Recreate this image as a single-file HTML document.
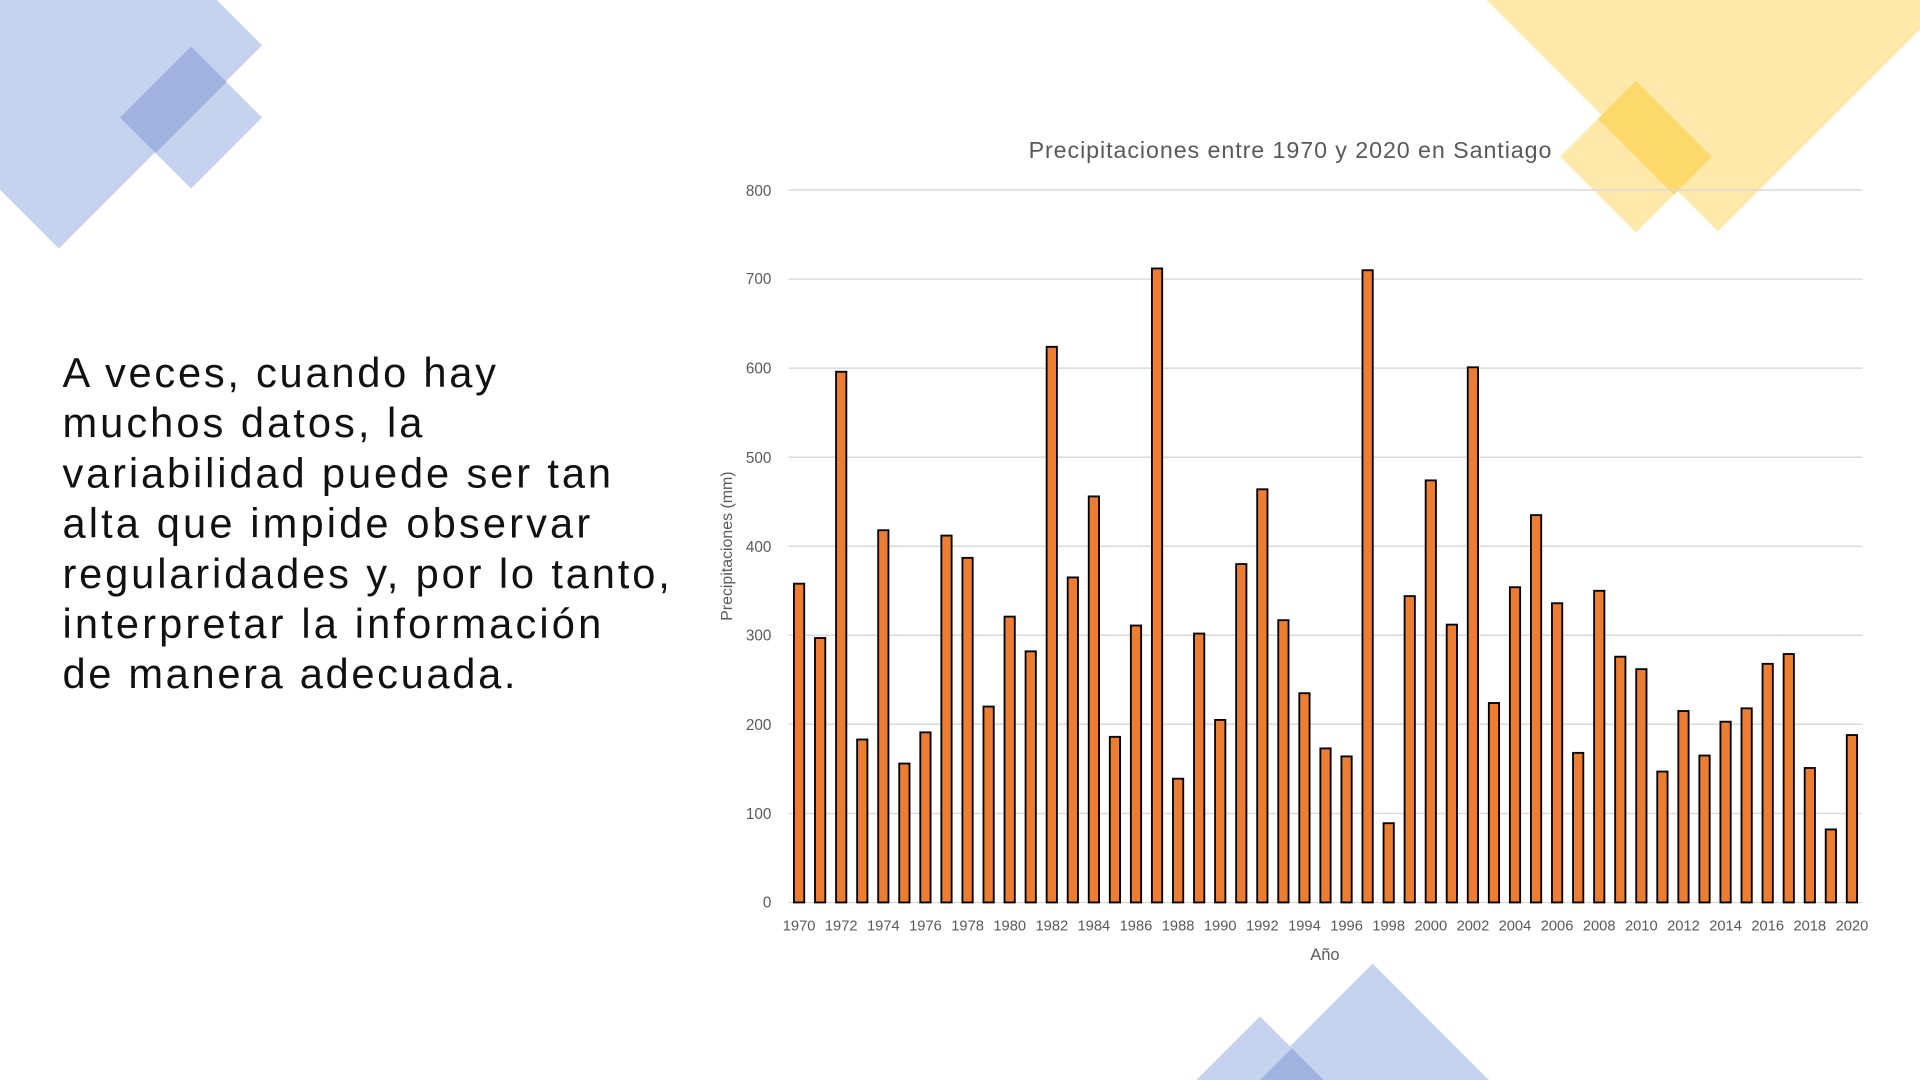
<!DOCTYPE html>
<html><head><meta charset="utf-8"><style>
html,body{margin:0;padding:0;background:#fff;width:1920px;height:1080px;overflow:hidden}
svg{display:block;overflow:hidden}
text{font-family:"Liberation Sans",sans-serif}
</style></head><body>
<svg width="1920" height="1080" viewBox="0 0 1568 882" preserveAspectRatio="none">
<defs><clipPath id="c"><rect x="0" y="0" width="1568" height="882"/></clipPath></defs>
<g clip-path="url(#c)">
<polygon points="48,-129 214,37 48,203 -118,37" fill="#c6d3ee"/>
<polygon points="156,38 214,96 156,154 98,96" fill="#c6d3ee"/>
<polygon points="156,38 185,67 127,125 98,96" fill="#9fb2e0"/>
<polygon points="1403,-217 1606,-14 1403,189 1200,-14" fill="#fee9ab"/>
<polygon points="1336,66 1398,128 1336,190 1274,128" fill="#fee9ab"/>
<polygon points="1336,66 1398,128 1367,159 1305,97" fill="#fdd96b"/>
<polygon points="1121,787 1239,905 1121,1023 1003,905" fill="#c6d3ee"/>
<polygon points="1029,830 1104,905 1029,980 954,905" fill="#c6d3ee"/>
<polygon points="1055,856 1104,905 1055,954 1006,905" fill="#9fb2e0"/>
</g>
<g font-size="34" fill="#111">
<text x="51" y="316" textLength="354" lengthAdjust="spacing">A veces, cuando hay</text>
<text x="51" y="357" textLength="294" lengthAdjust="spacing">muchos datos, la</text>
<text x="51" y="398" textLength="448" lengthAdjust="spacing">variabilidad puede ser tan</text>
<text x="51" y="439" textLength="431" lengthAdjust="spacing">alta que impide observar</text>
<text x="51" y="480" textLength="496" lengthAdjust="spacing">regularidades y, por lo tanto,</text>
<text x="51" y="521" textLength="440" lengthAdjust="spacing">interpretar la información</text>
<text x="51" y="562" textLength="370" lengthAdjust="spacing">de manera adecuada.</text>
</g>
<text x="840" y="129" font-size="19" fill="#595959" textLength="427" lengthAdjust="spacing">Precipitaciones entre 1970 y 2020 en Santiago</text>
<g stroke="#d9d9d9" stroke-width="1.2">
<line x1="644" x2="1521" y1="155.2" y2="155.2"/><line x1="644" x2="1521" y1="227.9" y2="227.9"/>
<line x1="644" x2="1521" y1="300.6" y2="300.6"/><line x1="644" x2="1521" y1="373.4" y2="373.4"/>
<line x1="644" x2="1521" y1="446.1" y2="446.1"/><line x1="644" x2="1521" y1="518.8" y2="518.8"/>
<line x1="644" x2="1521" y1="591.5" y2="591.5"/><line x1="644" x2="1521" y1="664.3" y2="664.3"/>
<line x1="644" x2="1521" y1="737" y2="737"/>
</g>
<g font-size="12.5" fill="#595959" text-anchor="end">
<text x="630" y="160">800</text><text x="630" y="232">700</text><text x="630" y="305">600</text>
<text x="630" y="378">500</text><text x="630" y="451">400</text><text x="630" y="523">300</text>
<text x="630" y="596">200</text><text x="630" y="669">100</text><text x="630" y="741">0</text>
</g>
<g id="bars" fill="#ed7d31" stroke="#000" stroke-width="1.5"></g>
<g font-size="12" fill="#595959" text-anchor="middle">
<text x="652.6" y="760">1970</text><text x="687.0" y="760">1972</text><text x="721.4" y="760">1974</text>
<text x="755.8" y="760">1976</text><text x="790.2" y="760">1978</text><text x="824.6" y="760">1980</text>
<text x="859.0" y="760">1982</text><text x="893.3" y="760">1984</text><text x="927.7" y="760">1986</text>
<text x="962.1" y="760">1988</text><text x="996.5" y="760">1990</text><text x="1030.9" y="760">1992</text>
<text x="1065.3" y="760">1994</text><text x="1099.7" y="760">1996</text><text x="1134.1" y="760">1998</text>
<text x="1168.5" y="760">2000</text><text x="1202.9" y="760">2002</text><text x="1237.2" y="760">2004</text>
<text x="1271.6" y="760">2006</text><text x="1306.0" y="760">2008</text><text x="1340.4" y="760">2010</text>
<text x="1374.8" y="760">2012</text><text x="1409.2" y="760">2014</text><text x="1443.6" y="760">2016</text>
<text x="1478.0" y="760">2018</text><text x="1512.4" y="760">2020</text>
</g>
<text x="1082" y="784" font-size="13.5" fill="#595959" text-anchor="middle">Año</text>
<text transform="translate(598,446) rotate(-90)" font-size="13" fill="#595959" text-anchor="middle">Precipitaciones (mm)</text>
</svg>
<script>
var v=[358,297,596,183,418,156,191,412,387,220,321,282,624,365,456,186,311,712,139,302,205,380,464,317,235,173,164,710,89,344,474,312,601,224,354,435,336,168,350,276,262,147,215,165,203,218,268,279,151,82,188];
var g=document.getElementById('bars'),s='';
for(var i=0;i<v.length;i++){var cx=644+(i+0.5)*17.196,h=v[i]*0.7272;
s+='<rect x="'+(cx-4.2).toFixed(2)+'" y="'+(737-h).toFixed(2)+'" width="8.4" height="'+h.toFixed(2)+'"/>';}
g.innerHTML=s;
</script>
</body></html>
